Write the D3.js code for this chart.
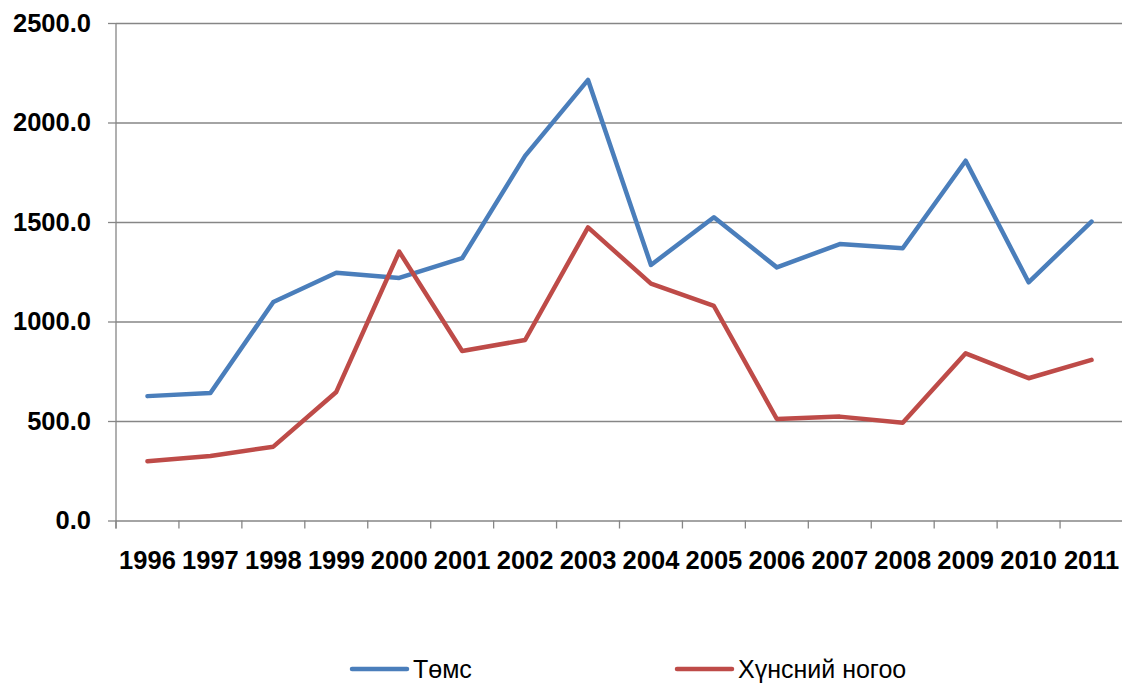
<!DOCTYPE html>
<html>
<head>
<meta charset="utf-8">
<script src="https://cdn.jsdelivr.net/npm/d3@7"></script>
<style>
  body { margin: 0; background: #fff; }
  .axis text { font-family: "Liberation Sans", Arial, sans-serif; font-weight: bold; fill: #000; }
  .axis path { display: none; }
  .grid line { stroke: #868686; stroke-width: 1.3; }
  .grid path { display: none; }
</style>
</head>
<body>
<script>
var years = ["1996","1997","1998","1999","2000","2001","2002","2003","2004","2005","2006","2007","2008","2009","2010","2011"];
var temsValues = [625, 641, 1098, 1245, 1219, 1318, 1832, 2214, 1284, 1524, 1272, 1389, 1368, 1808, 1197, 1502];
var nogooValues = [298, 324, 371, 646, 1351, 852, 907, 1473, 1190, 1078, 510, 522, 491, 840, 715, 807];
var seriesNames = ["Төмс", "Хүнсний ногоо"];
var seriesColors = ["#4A7EBB", "#BE4B48"];
var yTicks = [0, 500, 1000, 1500, 2000, 2500];

var W = 1122, H = 684;
var plotL = 116, plotR = 1123, plotT = 23, plotB = 520.5;

var svg = d3.select("body").append("svg")
    .attr("width", W)
    .attr("height", H);

var x = d3.scaleBand()
    .domain(years)
    .range([plotL, plotR])
    .padding(0);

var y = d3.scaleLinear()
    .domain([0, 2500])
    .range([plotB, plotT]);

// gridlines
svg.append("g")
    .attr("class", "grid")
    .attr("transform", "translate(" + plotL + ",0)")
    .call(d3.axisLeft(y).tickValues(yTicks).tickSize(-(plotR - plotL)).tickFormat(""));

// y axis with outward ticks
svg.append("g")
    .attr("class", "axis grid")
    .attr("transform", "translate(" + plotL + ",0)")
    .call(d3.axisLeft(y).tickValues(yTicks).tickSize(8).tickPadding(17).tickFormat(d3.format(".1f")))
    .selectAll("text")
    .style("font-size", "25.5px");

// vertical axis line
svg.append("line")
    .attr("x1", plotL).attr("x2", plotL)
    .attr("y1", plotT).attr("y2", plotB + 8)
    .attr("stroke", "#868686").attr("stroke-width", 1.3);

// x tick marks at band boundaries
svg.append("g")
    .selectAll("line")
    .data(years)
    .enter().append("line")
    .attr("x1", function(d) { return x(d); })
    .attr("x2", function(d) { return x(d); })
    .attr("y1", plotB)
    .attr("y2", plotB + 8)
    .attr("stroke", "#868686")
    .attr("stroke-width", 1.3);

// x labels
svg.append("g")
    .attr("class", "axis")
    .attr("transform", "translate(0," + plotB + ")")
    .call(d3.axisBottom(x).tickSize(0).tickPadding(30))
    .call(function(g) { g.selectAll("line").remove(); })
    .selectAll("text")
    .style("font-size", "25.5px");

// lines
var line = d3.line()
    .x(function(d, i) { return x(years[i]) + x.bandwidth() / 2; })
    .y(function(d) { return y(d); });

[temsValues, nogooValues].forEach(function(vals, i) {
  svg.append("path")
      .datum(vals)
      .attr("fill", "none")
      .attr("stroke", seriesColors[i])
      .attr("stroke-width", 4.5)
      .attr("stroke-linejoin", "round")
      .attr("stroke-linecap", "round")
      .attr("d", line);
});

// legend
var legendX = [352, 677];
var legend = svg.append("g")
    .selectAll("g")
    .data(seriesNames)
    .enter().append("g")
    .attr("transform", function(d, i) { return "translate(" + legendX[i] + ",669)"; });

legend.append("line")
    .attr("x1", 0).attr("x2", 55)
    .attr("stroke", function(d, i) { return seriesColors[i]; })
    .attr("stroke-width", 4.5)
    .attr("stroke-linecap", "round");

legend.append("text")
    .attr("x", 61)
    .attr("y", 8.5)
    .style("font-family", "'Liberation Sans', Arial, sans-serif")
    .style("font-size", "25px")
    .text(function(d) { return d; });
</script>
</body>
</html>
